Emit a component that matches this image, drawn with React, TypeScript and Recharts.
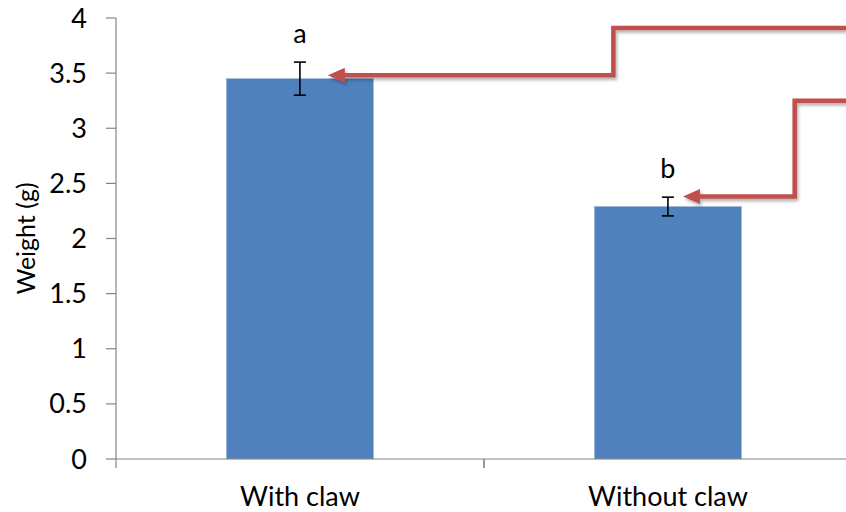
import { BarChart, Bar, XAxis, YAxis, ErrorBar, LabelList } from 'recharts';

const categories = ['With claw', 'Without claw'];
const weights = [3.45, 2.29];
const errors = [0.15, 0.085];
const letters = ['a', 'b'];
const yTicks = [0, 0.5, 1, 1.5, 2, 2.5, 3, 3.5, 4];

// red arrows: tip/bend heights in weight units, horizontal spots in category units (from the bar's band start)
const arrowTipValue = [3.48, 2.38];
const arrowBendValue = [3.91, 3.25];
const arrowTipCat = [0.576, 0.541];
const arrowBendCat = [1.353, 0.845];

const data = categories.map((name, i) => ({
  name,
  weight: weights[i],
  err: errors[i],
  letter: letters[i],
}));

const FONT = 'Lato, "DejaVu Sans", sans-serif';
const BAR_FRAC = 0.4;

function BarWithArrow(props: any) {
  const { x, y, width, height, index, payload } = props;
  const base = y + height;
  const ppu = height / payload.weight;
  const yOf = (v: number) => base - v * ppu;
  const band = width / BAR_FRAC;
  const left = x + width / 2 - band / 2;
  const tipX = left + arrowTipCat[index] * band;
  const tipY = yOf(arrowTipValue[index]);
  const bendX = left + arrowBendCat[index] * band;
  const bendY = yOf(arrowBendValue[index]);
  const endX = left + 3 * band;
  return (
    <g>
      <rect x={x} y={y} width={width} height={height} fill="#4F81BD" stroke="#9bb5d8" strokeWidth={0.6} />
      <g filter="url(#arrowShadow)">
        <path
          d={`M${tipX + 14},${tipY} L${bendX},${tipY} L${bendX},${bendY} L${endX},${bendY}`}
          fill="none"
          stroke="#C0504D"
          strokeWidth={4.5}
        />
        <path d={`M${tipX},${tipY} L${tipX + 17},${tipY - 7.5} L${tipX + 17},${tipY + 7.5} Z`} fill="#C0504D" />
      </g>
    </g>
  );
}

function LetterLabel(props: any) {
  const { x, y, width, height, index } = props;
  const base = y + height;
  const ppu = height / weights[index];
  const top = base - (weights[index] + errors[index]) * ppu;
  return (
    <text x={x + width / 2} y={top - 19} textAnchor="middle" fontSize={27} fill="#000" fontFamily={FONT}>
      {letters[index]}
    </text>
  );
}

function CatTick(props: any) {
  const { x, y, payload } = props;
  const half = payload && typeof payload.offset === 'number' && payload.offset > 0 ? payload.offset : 184;
  return (
    <g>
      <line x1={x - half} y1={y} x2={x - half} y2={y + 9} stroke="#868686" strokeWidth={1.2} />
      <line x1={x + half} y1={y} x2={x + half} y2={y + 9} stroke="#868686" strokeWidth={1.2} />
      <text x={x} y={y + 47} textAnchor="middle" fontSize={27} fill="#000" fontFamily={FONT}>
        {payload.value}
      </text>
    </g>
  );
}

export default function App() {
  return (
    <div style={{ position: 'absolute', top: 0, left: 8, width: 838, height: 512, overflow: 'hidden', background: '#fff' }}>
      <BarChart
        width={860}
        height={512}
        data={data}
        margin={{ top: 18, right: 16, left: 0, bottom: 0 }}
        barCategoryGap="30%"
        style={{ fontFamily: FONT }}
      >
        <defs>
          <filter id="arrowShadow" x="-10%" y="-10%" width="130%" height="140%">
            <feDropShadow dx="1.5" dy="2.5" stdDeviation="1.5" floodColor="#000" floodOpacity="0.3" />
          </filter>
        </defs>
        <XAxis
          dataKey="name"
          height={53}
          axisLine={{ stroke: '#868686', strokeWidth: 1.2 }}
          tickLine={false}
          tickSize={0}
          tickMargin={0}
          tick={<CatTick />}
          interval={0}
        />
        <YAxis
          domain={[0, 4]}
          ticks={yTicks}
          width={108}
          axisLine={{ stroke: '#868686', strokeWidth: 1.2 }}
          tickLine={{ stroke: '#868686', strokeWidth: 1.2 }}
          tickSize={10}
          tickMargin={19}
          tick={{ fill: '#000', fontSize: 27, fontFamily: FONT }}
          label={{
            value: 'Weight (g)',
            angle: -90,
            position: 'insideLeft',
            offset: 18,
            style: { textAnchor: 'middle', fill: '#000', fontSize: 25, fontFamily: FONT },
          }}
        />
        <Bar dataKey="weight" isAnimationActive={false} shape={<BarWithArrow />}>
          <ErrorBar dataKey="err" width={6} stroke="#000" strokeWidth={1.6} />
          <LabelList dataKey="letter" content={<LetterLabel />} />
        </Bar>
      </BarChart>
    </div>
  );
}
